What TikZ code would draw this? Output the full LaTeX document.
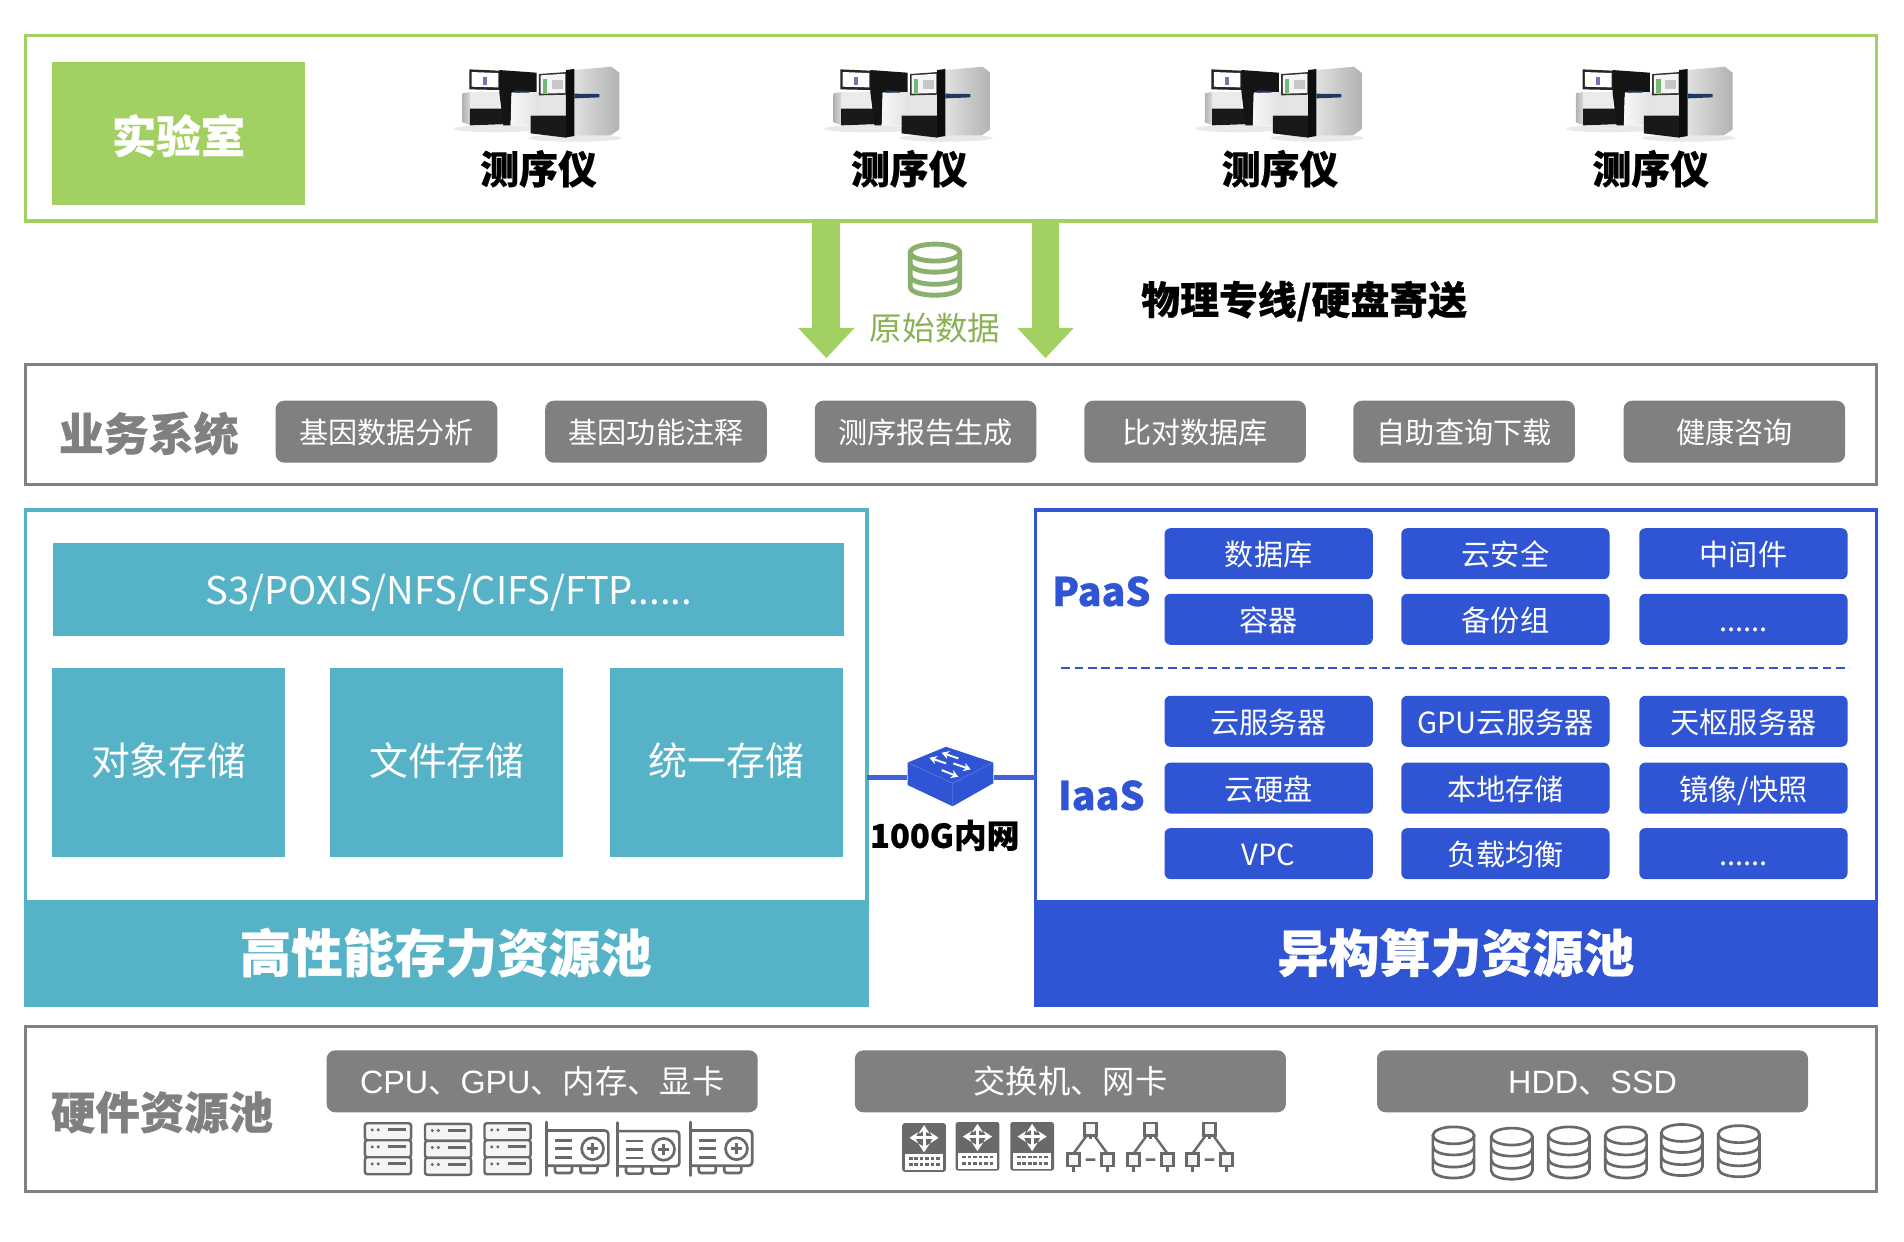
\documentclass[tikz,border=0pt]{standalone}
\usepackage{fontspec}
\setmainfont{Noto Sans CJK SC}[BoldFeatures={FakeBold=.6}]
\newfontfamily\latf{Liberation Sans}
\usetikzlibrary{arrows.meta}
\definecolor{labgreen}{HTML}{A3D063}
\definecolor{dbgreen}{HTML}{8AB06E}
\definecolor{slate}{HTML}{808080}
\definecolor{icongray}{HTML}{696969}
\definecolor{poolteal}{HTML}{56B3C7}
\definecolor{poolblue}{HTML}{2F54D4}
\definecolor{navy}{HTML}{1F3A60}
\newcommand{\more}{{.}{.}{.}{.}{.}{.}}
\tikzset{
 frame/.style={draw,line width=1.25pt,fill=white},
 plate/.style={rectangle,inner sep=0pt,outer sep=0pt,text=white},
 pill/.style={plate,fill=slate,rounded corners=3.5pt,text height=11pt,text depth=1pt,font=\fontsize{12}{14}\selectfont},
 bigpill/.style={pill,text height=12pt,text depth=2pt,font=\fontsize{13.3}{15}\selectfont},
 chip/.style={plate,fill=poolblue,rounded corners=2.5pt,text height=11pt,text depth=1pt,font=\fontsize{12}{14}\selectfont},
 tile/.style={plate,fill=poolteal,text height=13pt,text depth=2pt,font=\fontsize{16}{18}\selectfont},
 heading/.style={font=\fontsize{#1}{#1}\selectfont\bfseries},
 dataflow/.style={draw=labgreen,line width=11.5pt,shorten >=2.5pt,
   -{Triangle[width=22.5pt,length=12.5pt]}},
 link/.style={draw=poolblue!92!white,line width=2pt},
 divider/.style={draw=poolblue,line width=.7pt,dash pattern=on 3.5pt off 2pt},
 pics/dbstack/.style={code={
   \draw[fill=white] (-17,-14) -- (-17,14) .. controls (-17,23.5) and (17,23.5) .. (17,14) -- (17,-14);
   \draw[fill=white] (0,-14) ellipse [x radius=17,y radius=7];
   \draw (-17,-5) .. controls (-17,4.5) and (17,4.5) .. (17,-5);
   \draw (-17,5) .. controls (-17,14.5) and (17,14.5) .. (17,5);
 }},
 pics/serverstack/.style={code={
   \foreach \r in {-14,0,14}{
     \draw[fill=black!4,rounded corners=1pt] (-19,\r-7) rectangle (19,\r+7);
     \fill (-13,\r-1.5) circle (1.4) (-8,\r-1.5) circle (1.4);
     \draw[line width=1.2pt] (0,\r-1.5) -- (15,\r-1.5);
   }
 }},
 pics/gpucard/.style={code={
   \draw[line cap=round] (-26,-22) -- (-26,22);
   \draw[rounded corners=1.5pt] (-26,-15) -- (25,-15) -- (25,14) -- (-26,14);
   \draw (12,0) circle (9);
   \draw[line width=1.3pt] (12,-4.5) -- (12,4.5) (7.5,0) -- (16.5,0);
   \foreach \r in {-7,0,7}{\draw (-19,\r) -- (-5,\r);}
   \draw[rounded corners=1pt] (-19,14) -- (-19,20) -- (-5,20) -- (-5,14);
   \draw[rounded corners=1pt] (2,14) -- (2,20) -- (16,20) -- (16,14);
 }},
 pics/netswitch/.style={code={
   \fill[rounded corners=1pt] (-18,-20) rectangle (18,20);
   \fill[white,draw=icongray,line width=.6pt] (-16.5,5) rectangle (16.5,19);
   \draw[white,line width=1.3pt,{Stealth[length=3.5pt,width=4.5pt]}-{Stealth[length=3.5pt,width=4.5pt]}] (0,-18.5) -- (0,4);
   \draw[white,line width=1.3pt,{Stealth[length=3.5pt,width=4.5pt]}-{Stealth[length=3.5pt,width=4.5pt]}] (-12,-8) -- (12,-8);
   \foreach \r in {9,14}{\foreach \c in {-11,-6.5,-2,2.5,7,11.5}{\fill (\c-1.5,\r-1) rectangle (\c+1.5,\r+1);}}
 }},
 pics/nettree/.style={code={
   \draw[fill=black!3] (-5,-20) rectangle (5,-10);
   \draw[fill=black!3] (-19,5) rectangle (-9,15);
   \draw[fill=black!3] (9,5) rectangle (19,15);
   \draw (-3,-10) -- (-14,5) (3,-10) -- (14,5) (-4,10) -- (4,10);
   \draw (0,-10) -- (0,-7) (-14,15) -- (-14,20) (14,15) -- (14,20);
 }},
 pics/sequencer/.style={code={
   % left unit
   \fill[black!14,opacity=.6] (170,236) ellipse [x radius=130,y radius=11];
   \fill[black!14,opacity=.6] (405,264) ellipse [x radius=140,y radius=11];
   \shade[left color=black!30,right color=black!15] (68,130) -- (90,126) -- (90,225) -- (68,217) -- cycle;
   \fill[black!8] (90,126) -- (180,126) -- (180,176) -- (90,176) -- cycle;
   \fill[black!90] (90,176) -- (190,176) -- (205,222) -- (90,226) -- cycle;
   \fill[black!85] (88,58) -- (180,62) -- (180,120) -- (88,118) -- cycle;
   \fill[white] (95,66) -- (175,69) -- (175,112) -- (95,110) -- cycle;
   \fill[blue!35!white!70!black] (128,80) rectangle (140,104);
   \fill[black!92] (178,60) -- (290,68) -- (290,126) -- (215,128) -- (212,226) -- (190,226) -- (178,126) -- cycle;
   \shade[left color=black!3,right color=black!12] (215,128) -- (300,126) -- (300,195) -- (272,197) -- (272,226) -- (212,226) -- cycle;
   \fill[navy] (225,121) -- (268,123) -- (268,128) -- (225,128) -- cycle;
   % right unit
   \fill[black!10] (297,132) -- (380,132) -- (380,200) -- (297,197) -- cycle;
   \fill[black!90] (272,197) -- (380,197) -- (380,263) -- (272,250) -- cycle;
   \fill[black!80] (297,72) -- (380,66) -- (380,134) -- (297,136) -- cycle;
   \fill[black!4] (302,76) -- (376,71) -- (376,129) -- (302,131) -- cycle;
   \fill[green!50!black!55] (308,88) rectangle (322,128);
   \fill[black!22] (335,90) rectangle (368,118);
   \shade[left color=black!12,right color=black!30] (403,60) -- (515,50) -- (538,68) -- (538,238) -- (512,256) -- (403,256) -- cycle;
   \fill[black!95] (378,60) -- (403,57) -- (403,258) -- (378,262) -- cycle;
   \fill[navy] (403,131) -- (478,132) -- (478,142) -- (403,145) -- cycle;
 }},
}
\newcommand{\plot}[7][]{\node[#1,minimum width={(#5-#3)*.5pt},minimum height={(#6-#4)*.5pt}]
  (#2) at ({(#3+#5)/2},{(#4+#6)/2}) {#7};}
\begin{document}
\begin{tikzpicture}[x=.5pt,y=-.5pt]
\useasboundingbox (0,0) rectangle (1568,1022.8);

% laboratory
\plot[frame,draw=labgreen,plate,text=black]{lab}{21}{29}{1545}{182}{}
\plot[plate,fill=labgreen,heading=18.3,text height=17.5pt,text depth=1.5pt]{labname}{43}{51}{251}{169}{实验室}
\foreach \i in {0,...,3}{
  \pic at ({362.3+305.6*\i},41.2) [scale=.2745] {sequencer};
  \node[heading=16] (seq\i) at ({443.5+305.3*\i},139) {测序仪};
}

% raw data path
\plot[frame,draw=slate,plate,text=black]{biz}{21}{300}{1545}{399}{}
\coordinate (flowa) at (680.5,0);
\coordinate (flowb) at (861,0);
\draw[dataflow] (lab.south -| flowa) -- (biz.north -| flowa);
\draw[dataflow] (lab.south -| flowb) -- (biz.north -| flowb);
\pic[color=dbgreen,line width=2pt,xscale=1.2] at (770,222) {dbstack};
\node[text=labgreen!85!black,font=\fontsize{13.4}{15}\selectfont] (rawdata) at (770,270) {原始数据};
\node[heading=16] (route) at (1074,248) {物理专线/硬盘寄送};

% business systems
\node[heading=18.5,text=slate] (bizname) at (122.5,357) {业务系统};
\foreach \x/\t [count=\i] in {227/基因数据分析,449/基因功能注释,671/测序报告生成,893/比对数据库,1114.5/自助查询下载,1337/健康咨询}{
  \plot[pill]{svc\i}{\x}{330}{\x+182.5}{381}{\t}
}

% storage pool
\plot[frame,draw=poolteal,plate,text=black]{store}{21}{420}{714}{828}{}
\plot[plate,fill=poolteal,heading=21.2]{storename}{21}{741}{713}{828}{高性能存力资源池}
\plot[tile,text height=13.6pt,text depth=1pt,font=\fontsize{15.7}{18}\selectfont]{proto}{44}{447}{695}{524}{S3/POXIS/NFS/CIFS/FTP\more}
\foreach \x/\t [count=\i] in {43/对象存储,272/文件存储,502/统一存储}{
  \plot[tile]{stype\i}{\x}{550}{\x+192}{706}{\t}
}

% compute pool
\plot[frame,draw=poolblue,plate,text=black]{comp}{853}{420}{1545}{828}{}
\plot[plate,fill=poolblue,heading=21]{compname}{853}{741}{1545}{828}{异构算力资源池}
\node[heading=16.2,text=poolblue] (paas) at (907,487) {PaaS};
\node[heading=16.2,text=poolblue] (iaas) at (907,655) {IaaS};
\foreach \x/\y/\t [count=\i] in {959/435/数据库,1154/435/云安全,1350/435/中间件,
  959/489/容器,1154/489/备份组,1350/489/\more,
  959/573/云服务器,1154/573/GPU云服务器,1350/573/天枢服务器,
  959/628/云硬盘,1154/628/本地存储,1350/628/{镜像/快照},
  959/682/VPC,1154/682/负载均衡,1350/682/\more}{
  \plot[chip]{chip\i}{\x}{\y}{\x+171.5}{\y+42}{\t}
}
\coordinate (dashl) at (874,550);
\coordinate (dashr) at (1523,550);
\draw[divider] (dashl) -- (dashr);

% switch between the pools
\coordinate (swmid) at (783,640);
\node[inner sep=0pt,minimum width=35.5pt,minimum height=25pt] (sw) at (swmid) {};
\draw[link] (store.east |- swmid) -- (sw.west);
\draw[link] (sw.east) -- (comp.west |- swmid);
\fill[poolblue] (747.5,628) -- (779,615) -- (818,628) -- (818,645) -- (784.5,664) -- (747.5,646.5) -- cycle;
\draw[white,opacity=.2,line width=.3pt] (747.5,628) -- (784.5,645) -- (818,628) (784.5,645) -- (784.5,664);
\foreach \a/\b/\c/\d in {789.2/624.6/775.5/619.9, 779/628.7/765.4/624, 785.1/628.7/799.4/633.6, 775.5/634.2/789.2/639.7}{
  \draw[white,line width=.8pt,-{Stealth[length=3pt,width=3.5pt]}] (\a,\b) -- (\c,\d);
}
\node[heading=13.5] (swname) at (778,688) {100G内网};

% hardware pool
\plot[frame,draw=slate,plate,text=black]{hw}{21}{845}{1545}{981}{}
\node[heading=18.3,text=slate] (hwname) at (133.5,916) {硬件资源池};
\plot[bigpill]{hwa}{269}{865}{624}{916}{{\latf CPU}、{\latf GPU}、内存、显卡}
\plot[bigpill]{hwb}{704}{865}{1059}{916}{交换机、网卡}
\plot[bigpill]{hwc}{1134}{865}{1489}{916}{{\latf HDD}、{\latf SSD}}
\foreach \x/\y in {319.5/946,369/946.5,418/946}{
  \pic[color=icongray,line width=1pt] at (\x,\y) {serverstack};
}
\foreach \x/\y in {476/946,534.5/946.5,594.5/946}{
  \pic[color=icongray,line width=1.1pt] at (\x,\y) {gpucard};
}
\foreach \x/\y in {761/945,805/944,850/944}{
  \pic[color=icongray] at (\x,\y) {netswitch};
}
\foreach \x in {898,947.5,996}{
  \pic[color=icongray,line width=1pt] at (\x,945) {nettree};
}
\foreach \x/\y in {1197/949,1245/950,1292/949,1339/949,1385/947,1432/948}{
  \pic[color=icongray,line width=1.1pt] at (\x,\y) {dbstack};
}
\end{tikzpicture}
\end{document}
